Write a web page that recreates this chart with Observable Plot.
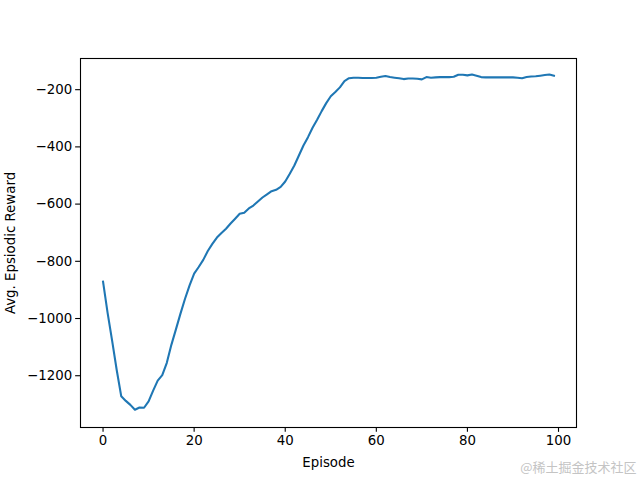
<!DOCTYPE html>
<html>
<head>
<meta charset="utf-8">
<script src="https://cdn.jsdelivr.net/npm/d3@7"></script>
<script src="https://cdn.jsdelivr.net/npm/@observablehq/plot@0.6"></script>
<style>
  html, body { margin: 0; padding: 0; background: #fff; }
  #chart svg { display: block; }
</style>
</head>
<body>
<div id="chart"></div>
<script>
const episodes = d3.range(0, 100);
const rewards = [
  -871, -980, -1078, -1180, -1272, -1288, -1302, -1319, -1311, -1312,
  -1290, -1252, -1217, -1198, -1155, -1092, -1038, -983, -931, -884,
  -843, -820, -795, -764, -739, -717, -701, -686, -668, -651,
  -634, -630, -615, -605, -591, -577, -566, -555, -550, -540,
  -521, -494, -465, -430, -395, -366, -333, -305, -275, -247,
  -223, -208, -192, -170, -160, -158, -158, -159, -159, -159,
  -158, -155, -152, -156, -158, -160, -163, -161, -161, -162,
  -164, -156, -158, -157, -156, -156, -156, -155, -148, -148,
  -150, -147, -151, -156, -157, -157, -157, -157, -157, -157,
  -157, -158, -160, -156, -154, -153, -151, -149, -147, -151
];
const xTicks = [0, 20, 40, 60, 80, 100];
const yTicks = [-1200, -1000, -800, -600, -400, -200];
const xLabel = "Episode";
const yLabel = "Avg. Epsiodic Reward";
const watermark = "@稀土掘金技术社区";

const data = episodes.map((e, i) => ({episode: e, reward: rewards[i]}));
const font = "DejaVu Sans, sans-serif";
const fs = 13.33;
const fmt = d3.format("d");

const chart = Plot.plot({
  width: 640,
  height: 480,
  marginLeft: 80,
  marginRight: 64,
  marginTop: 58,
  marginBottom: 53,
  style: {fontFamily: font, fontSize: fs + "px", color: "#000", background: "#fff"},
  x: {domain: [-4.95, 103.95]},
  y: {domain: [-1381, -91]},
  marks: [
    Plot.axisX({ticks: xTicks, tickFormat: fmt, tickSize: 4.86, tickPadding: 3.5, fontSize: fs, label: null, stroke: "#000", strokeWidth: 1.1}),
    Plot.axisY({ticks: yTicks, tickFormat: fmt, tickSize: 4.86, tickPadding: 3.5, fontSize: fs, label: null, stroke: "#000", strokeWidth: 1.1}),
    Plot.line(data, {x: "episode", y: "reward", stroke: "#1f77b4", strokeWidth: 2.08, strokeLinejoin: "round", strokeLinecap: "square"}),
    Plot.frame({stroke: "#000", strokeWidth: 1.1}),
    Plot.text([xLabel], {text: d => d, frameAnchor: "bottom", dy: 35, fontSize: fs, fill: "#000", lineAnchor: "middle"}),
    Plot.text([yLabel], {text: d => d, frameAnchor: "left", dx: -70, rotate: -90, textAnchor: "middle", fontSize: fs, fill: "#000", lineAnchor: "middle"}),
    Plot.text([watermark], {text: d => d, frameAnchor: "bottom-right", dx: 60, dy: 40, textAnchor: "end", lineAnchor: "middle", fontSize: 13, fill: "#c4c4c4", fontFamily: "Noto Sans CJK SC"})
  ]
});
document.getElementById("chart").appendChild(chart);
</script>
</body>
</html>
